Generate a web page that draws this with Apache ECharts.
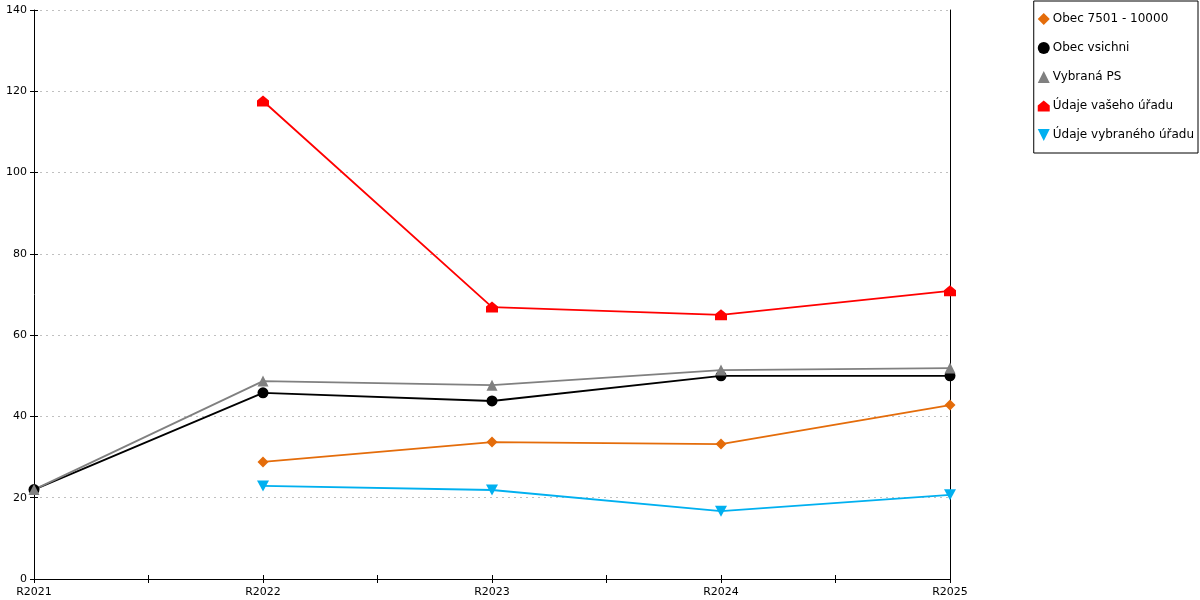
<!DOCTYPE html>
<html>
<head>
<meta charset="utf-8">
<script src="https://cdn.jsdelivr.net/npm/echarts@6/dist/echarts.min.js"></script>
<style>
  html, body { margin: 0; padding: 0; background: #fff; }
  #chart { width: 1200px; height: 600px; }
</style>
</head>
<body>
<div id="chart"></div>
<script>
// roky na ose x
const years = ['R2021', 'R2022', 'R2023', 'R2024', 'R2025'];

// hodnoty jednotlivych rad (null = bez udaje)
const obec7501 = [null, 28.8, 33.7, 33.2, 42.8];
const obecVsichni = [22, 45.8, 43.8, 50.0, 50.0];
const vybranaPS = [22, 48.7, 47.7, 51.4, 51.9];
const udajeVaseho = [null, 117.6, 66.9, 65.0, 70.9];
const udajeVybraneho = [null, 22.9, 21.9, 16.7, 20.7];

const seriesNames = ['Obec 7501 - 10000', 'Obec vsichni', 'Vybraná PS', 'Údaje vašeho úřadu', 'Údaje vybraného úřadu'];

const HOUSE = 'path://M6,0 L12,5 L12,11 L0,11 L0,5 Z';
const DOWN = 'path://M0,0 L10,0 L5,10 Z';

function toPairs(arr) {
  return arr.map((v, i) => [i, v]);
}

function lineSeries(name, data, color, symbol, size) {
  return {
    name: name,
    type: 'line',
    data: toPairs(data),
    symbol: symbol,
    symbolSize: size,
    connectNulls: false,
    lineStyle: { color: color, width: 1.8 },
    itemStyle: { color: color },
    emphasis: { disabled: true },
    animation: false,
    z: 3
  };
}

const chart = echarts.init(document.getElementById('chart'), null, { renderer: 'canvas' });

const tickLabel = {
  fontFamily: 'DejaVu Sans',
  fontSize: 11,
  color: '#000'
};

chart.setOption({
  backgroundColor: '#fff',
  grid: { left: 34, right: 250, top: 10, bottom: 21 },
  legend: {
    orient: 'vertical',
    right: 2,
    top: 1,
    borderColor: '#000',
    borderWidth: 1,
    padding: [12, 4, 12, 4],
    itemGap: 17,
    itemWidth: 12,
    itemHeight: 12,
    textStyle: { fontFamily: 'DejaVu Sans', fontSize: 12, color: '#000', padding: [0, 0, 0, -2] },
    data: [
      { name: seriesNames[0], icon: 'diamond' },
      { name: seriesNames[1], icon: 'circle' },
      { name: seriesNames[2], icon: 'triangle' },
      { name: seriesNames[3], icon: HOUSE },
      { name: seriesNames[4], icon: DOWN }
    ]
  },
  xAxis: [
    {
      type: 'value',
      min: 0,
      max: 4,
      interval: 0.5,
      axisLine: { lineStyle: { color: '#000' } },
      axisTick: { show: true, length: 4, lineStyle: { color: '#000' } },
      axisLabel: {
        ...tickLabel,
        margin: 8,
        showMinLabel: true,
        showMaxLabel: true,
        formatter: v => Number.isInteger(v) ? years[v] : ''
      },
      splitLine: { show: false }
    },
    {
      type: 'value',
      position: 'bottom',
      min: 0,
      max: 4,
      interval: 0.5,
      axisLine: { show: false },
      axisTick: { show: true, inside: true, length: 4, lineStyle: { color: '#000' } },
      axisLabel: { show: false },
      splitLine: { show: false }
    }
  ],
  yAxis: [
    {
      type: 'value',
      min: 0,
      max: 140,
      interval: 20,
      axisLine: { show: true, lineStyle: { color: '#000' } },
      axisTick: { show: true, length: 4, lineStyle: { color: '#000' } },
      axisLabel: { ...tickLabel, margin: 7 },
      splitLine: { show: true, lineStyle: { color: '#c0c0c0', type: [2, 4] } }
    },
    {
      type: 'value',
      position: 'left',
      min: 0,
      max: 140,
      interval: 20,
      axisLine: { show: false },
      axisTick: { show: true, inside: true, length: 4, lineStyle: { color: '#000' } },
      axisLabel: { show: false },
      splitLine: { show: false }
    },
    {
      type: 'value',
      position: 'right',
      min: 0,
      max: 140,
      interval: 20,
      axisLine: { show: true, lineStyle: { color: '#000' } },
      axisTick: { show: false },
      axisLabel: { show: false },
      splitLine: { show: false }
    }
  ],
  series: [
    lineSeries(seriesNames[0], obec7501, '#E46C0A', 'diamond', 11),
    lineSeries(seriesNames[1], obecVsichni, '#000000', 'circle', 11),
    lineSeries(seriesNames[2], vybranaPS, '#808080', 'triangle', 11),
    lineSeries(seriesNames[3], udajeVaseho, '#FF0000', HOUSE, [12, 11]),
    lineSeries(seriesNames[4], udajeVybraneho, '#00B0F0', DOWN, [12, 11])
  ]
});
</script>
</body>
</html>
